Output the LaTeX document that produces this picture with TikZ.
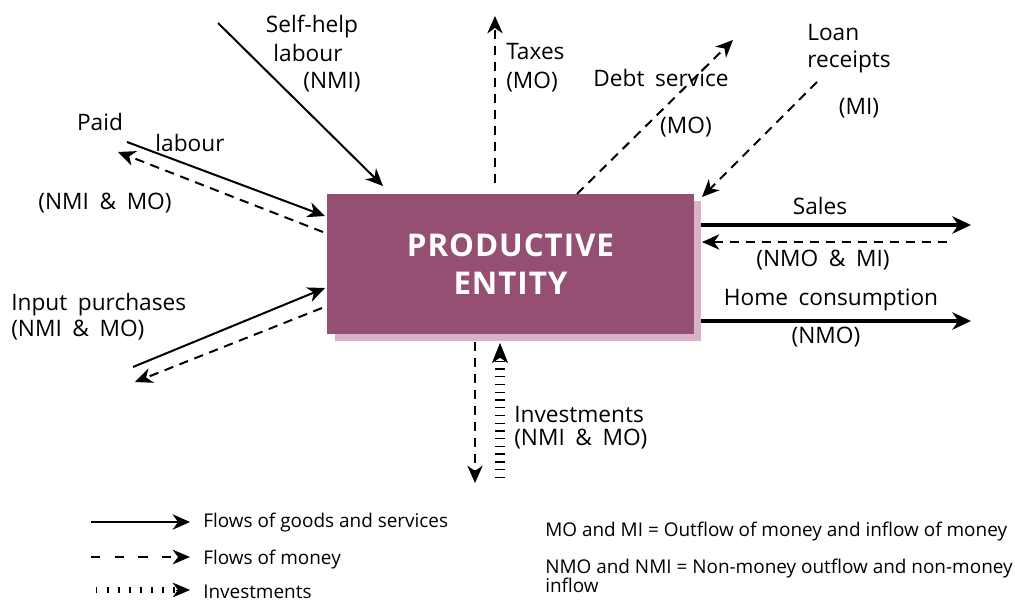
\documentclass[tikz,border=0pt]{standalone}
\usepackage{fontspec}
\setmainfont{Open Sans}
\newfontfamily\lblfont{Open Sans}[WordSpace=1.8]
\usetikzlibrary{arrows.meta,calc}
\definecolor{entity}{HTML}{954F72}
\definecolor{entshadow}{HTML}{D8B3C8}
\tikzset{
  lbl/.style={inner sep=0pt, font=\lblfont\fontsize{17pt}{20pt}\selectfont},
  leg/.style={inner sep=0pt, font=\fontsize{14.2pt}{14.4pt}\selectfont},
  sol/.style={line width=1.5pt, -{Stealth[length=13pt,width=11.5pt,inset=4pt]}},
  mon/.style={line width=1.5pt, dash pattern=on 7pt off 5pt, -{Stealth[length=13pt,width=11.5pt,inset=4pt]}},
  big/.style={line width=3pt, -{Stealth[length=14pt,width=13pt,inset=4.5pt]}},
  inv/.style={shorten <=#1, -{Stealth[length=15pt,width=12pt,inset=4pt]},
    preaction={draw, -, line width=7.5pt, dash pattern=on 1pt off 4.8pt, shorten >=13pt, shorten <=0pt}},
  leginv/.style={shorten <=#1, -{Stealth[length=13pt,width=11pt,inset=4pt]},
    preaction={draw, -, line width=5pt, dash pattern=on 1.1pt off 7.2pt, shorten >=10pt, shorten <=0pt}},
  legmon/.style={line width=1.5pt, dash pattern=on 6.8pt off 11pt, -{Stealth[length=13pt,width=11pt,inset=4pt]}},
}
\begin{document}
\begin{tikzpicture}[x=0.75pt,y=-0.75pt]
\useasboundingbox (0,0) rectangle (1015,603);
% entity
\fill[entshadow] (335,201) rectangle (701,341);
\node[fill=entity, minimum width=275.25pt, minimum height=105pt, inner sep=0pt,
  text=white, align=center, font=\fontsize{23.5pt}{28.5pt}\selectfont\bfseries\addfontfeature{LetterSpace=3}]
  (pe) at (510.5,264) {PRODUCTIVE\\ENTITY};

% coordinates
\coordinate (sh1) at (218,23);  \coordinate (sh2) at (383,186);
\coordinate (pl1) at (127,142); \coordinate (pl2) at (325,216);
\coordinate (pm1) at (323,232); \coordinate (pm2) at (118,152);
\coordinate (ip1) at (133,367); \coordinate (ip2) at (325,288);
\coordinate (im1) at (322,308); \coordinate (im2) at (135,382);
\coordinate (tx1) at (495,183); \coordinate (tx2) at (495,16);
\coordinate (ds1) at (577,194); \coordinate (ds2) at (733,40);
\coordinate (lr1) at (817,82);  \coordinate (lr2) at (702,197);
\coordinate (sa1) at (701,225); \coordinate (sa2) at (971,225);
\coordinate (sm1) at (947,242); \coordinate (sm2) at (702,242);
\coordinate (hc1) at (701,321); \coordinate (hc2) at (971,321);
\coordinate (iv1) at (475,342); \coordinate (iv2) at (475,483);
\coordinate (in1) at (500,478); \coordinate (in2) at (500,343);

\draw[sol] (sh1) -- (sh2);
\draw[sol] (pl1) -- (pl2);
\draw[mon] (pm1) -- (pm2);
\draw[sol] (ip1) -- (ip2);
\draw[mon] (im1) -- (im2);
\draw[mon] (tx1) -- (tx2);
\draw[mon] (ds1) -- (ds2);
\draw[mon] (lr1) -- (lr2);
\draw[big] (sa1) -- (sa2);
\draw[mon] (sm1) -- (sm2);
\draw[big] (hc1) -- (hc2);
\draw[mon] (iv1) -- (iv2);
\draw[inv=90pt] (in1) -- (in2);

% labels
\node[lbl] (t1) at (312,27) {Self-help};
\node[lbl] (t2) at (308,53) {labour};
\node[lbl] (t3) at (332,82) {(NMI)};
\node[lbl] (t4) at (100,122) {Paid};
\node[lbl] (t5) at (190,143) {labour};
\node[lbl] (t6) at (105,203) {(NMI \& MO)};
\node[lbl, anchor=west] (t7) at (11,305) {Input purchases};
\node[lbl, anchor=west] (t8) at (11,330) {(NMI \& MO)};
\node[lbl, anchor=west] (t9) at (506,52) {Taxes};
\node[lbl, anchor=west] (t10) at (506,82) {(MO)};
\node[lbl] (t11) at (661,78) {Debt service};
\node[lbl] (t12) at (686,127) {(MO)};
\node[lbl, anchor=west] (t13) at (807,33) {Loan};
\node[lbl, anchor=west] (t14) at (807,62) {receipts};
\node[lbl] (t15) at (859,108) {(MI)};
\node[lbl] (t16) at (820,206) {Sales};
\node[lbl] (t17) at (823,260) {(NMO \& MI)};
\node[lbl] (t18) at (831,300) {Home consumption};
\node[lbl] (t19) at (826,337) {(NMO)};
\node[lbl, anchor=west] (t20) at (514,415) {Investments};
\node[lbl, anchor=west] (t21) at (514,439) {(NMI \& MO)};

% legend
\coordinate (la1) at (91,522);  \coordinate (la2) at (190,522);
\coordinate (lb1) at (91,557);  \coordinate (lb2) at (190,557);
\coordinate (lc1) at (96,590);  \coordinate (lc2) at (190,590);
\draw[sol] (la1) -- (la2);
\draw[legmon] (lb1) -- (lb2);
\draw[leginv=60pt] (lc1) -- (lc2);
\node[leg, anchor=west] (g1) at (203,523) {Flows of goods and services};
\node[leg, anchor=west] (g2) at (203,560) {Flows of money};
\node[leg, anchor=west] (g3) at (203,592) {Investments};
\node[leg, anchor=west] (g4) at (545,532) {MO and MI = Outflow of money and inflow of money};
\node[leg, anchor=west, align=left] (g5) at (545,576)
  {NMO and NMI = Non-money outflow and non-money\\inflow};
\end{tikzpicture}
\end{document}
